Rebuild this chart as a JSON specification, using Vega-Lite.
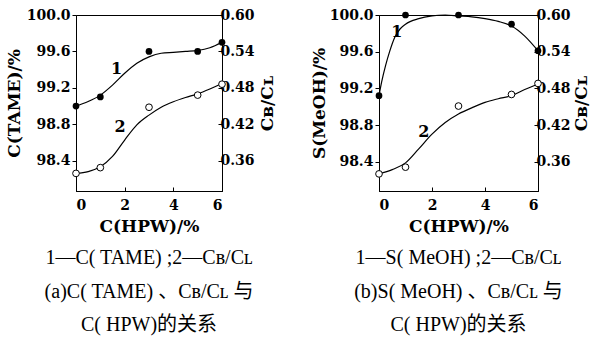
{
  "$schema": "https://vega.github.io/schema/vega-lite/v6.json",
  "padding": {"left": 4, "top": 7, "right": 0, "bottom": 0},
  "background": "white",
  "datasets": {
    "fit": [
      {"p": "a", "s": 1, "x": 0, "v": 99.0}, {"p": "a", "s": 1, "x": 0.5, "v": 99.05}, {"p": "a", "s": 1, "x": 1, "v": 99.12}, {"p": "a", "s": 1, "x": 1.5, "v": 99.23}, {"p": "a", "s": 1, "x": 2, "v": 99.36}, {"p": "a", "s": 1, "x": 2.5, "v": 99.47}, {"p": "a", "s": 1, "x": 3, "v": 99.54}, {"p": "a", "s": 1, "x": 3.5, "v": 99.58}, {"p": "a", "s": 1, "x": 4, "v": 99.59}, {"p": "a", "s": 1, "x": 4.5, "v": 99.6}, {"p": "a", "s": 1, "x": 5, "v": 99.61}, {"p": "a", "s": 1, "x": 5.5, "v": 99.64}, {"p": "a", "s": 1, "x": 6, "v": 99.7},
      {"p": "a", "s": 2, "x": 0, "v": 0.339}, {"p": "a", "s": 2, "x": 0.5, "v": 0.342}, {"p": "a", "s": 2, "x": 1, "v": 0.35}, {"p": "a", "s": 2, "x": 1.5, "v": 0.367}, {"p": "a", "s": 2, "x": 2, "v": 0.394}, {"p": "a", "s": 2, "x": 2.5, "v": 0.419}, {"p": "a", "s": 2, "x": 3, "v": 0.435}, {"p": "a", "s": 2, "x": 3.5, "v": 0.448}, {"p": "a", "s": 2, "x": 4, "v": 0.457}, {"p": "a", "s": 2, "x": 4.5, "v": 0.464}, {"p": "a", "s": 2, "x": 5, "v": 0.47}, {"p": "a", "s": 2, "x": 5.5, "v": 0.478}, {"p": "a", "s": 2, "x": 6, "v": 0.487},
      {"p": "b", "s": 1, "x": 0, "v": 99.12}, {"p": "b", "s": 1, "x": 0.1, "v": 99.27}, {"p": "b", "s": 1, "x": 0.25, "v": 99.45}, {"p": "b", "s": 1, "x": 0.4, "v": 99.6}, {"p": "b", "s": 1, "x": 0.6, "v": 99.76}, {"p": "b", "s": 1, "x": 0.8, "v": 99.85}, {"p": "b", "s": 1, "x": 1, "v": 99.9}, {"p": "b", "s": 1, "x": 1.5, "v": 99.96}, {"p": "b", "s": 1, "x": 2, "v": 99.99}, {"p": "b", "s": 1, "x": 2.5, "v": 100.0}, {"p": "b", "s": 1, "x": 3, "v": 99.99}, {"p": "b", "s": 1, "x": 3.5, "v": 99.98}, {"p": "b", "s": 1, "x": 4, "v": 99.96}, {"p": "b", "s": 1, "x": 4.5, "v": 99.93}, {"p": "b", "s": 1, "x": 5, "v": 99.88}, {"p": "b", "s": 1, "x": 5.5, "v": 99.77}, {"p": "b", "s": 1, "x": 6, "v": 99.61},
      {"p": "b", "s": 2, "x": 0, "v": 0.34}, {"p": "b", "s": 2, "x": 0.5, "v": 0.347}, {"p": "b", "s": 2, "x": 1, "v": 0.358}, {"p": "b", "s": 2, "x": 1.5, "v": 0.381}, {"p": "b", "s": 2, "x": 2, "v": 0.405}, {"p": "b", "s": 2, "x": 2.5, "v": 0.424}, {"p": "b", "s": 2, "x": 3, "v": 0.438}, {"p": "b", "s": 2, "x": 3.5, "v": 0.448}, {"p": "b", "s": 2, "x": 4, "v": 0.457}, {"p": "b", "s": 2, "x": 4.5, "v": 0.463}, {"p": "b", "s": 2, "x": 5, "v": 0.468}, {"p": "b", "s": 2, "x": 5.5, "v": 0.478}, {"p": "b", "s": 2, "x": 6, "v": 0.487}
    ],
    "obs": [
      {"p": "a", "s": 1, "x": 0, "v": 99.0}, {"p": "a", "s": 1, "x": 1, "v": 99.1}, {"p": "a", "s": 1, "x": 3, "v": 99.6}, {"p": "a", "s": 1, "x": 5, "v": 99.6}, {"p": "a", "s": 1, "x": 6, "v": 99.7},
      {"p": "a", "s": 2, "x": 0, "v": 0.339}, {"p": "a", "s": 2, "x": 1, "v": 0.3485}, {"p": "a", "s": 2, "x": 3, "v": 0.448}, {"p": "a", "s": 2, "x": 5, "v": 0.468}, {"p": "a", "s": 2, "x": 6, "v": 0.486},
      {"p": "b", "s": 1, "x": 0, "v": 99.12}, {"p": "b", "s": 1, "x": 1, "v": 100.0}, {"p": "b", "s": 1, "x": 3, "v": 100.0}, {"p": "b", "s": 1, "x": 5, "v": 99.9}, {"p": "b", "s": 1, "x": 6, "v": 99.61},
      {"p": "b", "s": 2, "x": 0, "v": 0.34}, {"p": "b", "s": 2, "x": 1, "v": 0.351}, {"p": "b", "s": 2, "x": 3, "v": 0.451}, {"p": "b", "s": 2, "x": 5, "v": 0.47}, {"p": "b", "s": 2, "x": 6, "v": 0.488}
    ],
    "lab": [
      {"p": "a", "s": 1, "x": 1.67, "v": 99.41, "t": "1"},
      {"p": "a", "s": 2, "x": 1.81, "v": 0.416, "t": "2"},
      {"p": "b", "s": 1, "x": 0.67, "v": 99.81, "t": "1"},
      {"p": "b", "s": 2, "x": 1.69, "v": 0.408, "t": "2"}
    ]
  },
  "config": {
    "font": "DejaVu Serif",
    "view": {"stroke": "black", "strokeWidth": 1},
    "axis": {"grid": false, "domainColor": "black", "tickColor": "black", "labelColor": "black", "titleColor": "black", "labelFont": "DejaVu Serif", "titleFont": "DejaVu Serif", "labelFontSize": 14, "titleFontSize": 17, "labelFontWeight": "bold", "titleFontWeight": "bold", "tickSize": 4},
    "concat": {"spacing": 33},
    "text": {"font": "DejaVu Serif"},
    "title": {"font": "'Liberation Serif', 'Noto Sans CJK SC', serif", "fontSize": 20, "fontWeight": "normal", "color": "black"}
  },
  "hconcat": [
    {
      "width": 146, "height": 176,
      "title": {"text": ["1—C( TAME) ;2—Cʙ/Cʟ", "(a)C( TAME) 、Cʙ/Cʟ 与", "C( HPW)的关系"], "orient": "bottom", "frame": "group", "anchor": "middle", "lineHeight": 33.5, "offset": 14},
      "layer": [
        {
          "encoding": {
            "x": {"field": "x", "type": "quantitative", "scale": {"domain": [0, 6], "nice": false}, "axis": {"values": [0, 2, 4, 6], "title": "C(HPW)/%", "tickSize": -4, "labelPadding": 11, "titlePadding": 6}},
            "y": {"field": "v", "type": "quantitative", "scale": {"domain": [98.067, 100], "nice": false, "zero": false}, "axis": {"orient": "left", "values": [98.4, 98.8, 99.2, 99.6, 100], "format": ".1f", "title": "C(TAME)/%", "titlePadding": 3, "labelPadding": 2}}
          },
          "layer": [
            {"data": {"name": "fit"}, "transform": [{"filter": "datum.p == 'a' && datum.s == 1"}], "mark": {"type": "line", "interpolate": "monotone", "color": "black", "strokeWidth": 1.2}, "encoding": {}},
            {"data": {"name": "obs"}, "transform": [{"filter": "datum.p == 'a' && datum.s == 1"}], "mark": {"type": "point", "shape": "circle", "filled": true, "color": "black", "size": 45, "opacity": 1}, "encoding": {}},
            {"data": {"name": "lab"}, "transform": [{"filter": "datum.p == 'a' && datum.s == 1"}], "mark": {"type": "text", "font": "DejaVu Serif", "fontSize": 16, "fontWeight": "bold", "color": "black"}, "encoding": {"text": {"field": "t"}}}
          ]
        },
        {
          "encoding": {
            "x": {"field": "x", "type": "quantitative", "scale": {"domain": [0, 6], "nice": false}, "axis": {"values": [0, 2, 4, 6], "title": "C(HPW)/%", "tickSize": -4, "labelPadding": 11, "titlePadding": 6}},
            "y": {"field": "v", "type": "quantitative", "scale": {"domain": [0.31, 0.6], "nice": false, "zero": false}, "axis": {"orient": "right", "values": [0.36, 0.42, 0.48, 0.54, 0.6], "format": ".2f", "title": "Cʙ/Cʟ", "titleAngle": 270, "titleBaseline": "top", "tickSize": -4, "titlePadding": 5, "labelPadding": 2}}
          },
          "layer": [
            {"data": {"name": "fit"}, "transform": [{"filter": "datum.p == 'a' && datum.s == 2"}], "mark": {"type": "line", "interpolate": "monotone", "color": "black", "strokeWidth": 1.2}, "encoding": {}},
            {"data": {"name": "obs"}, "transform": [{"filter": "datum.p == 'a' && datum.s == 2"}], "mark": {"type": "point", "shape": "circle", "filled": true, "fill": "white", "stroke": "black", "strokeWidth": 1, "size": 45, "opacity": 1}, "encoding": {}},
            {"data": {"name": "lab"}, "transform": [{"filter": "datum.p == 'a' && datum.s == 2"}], "mark": {"type": "text", "font": "DejaVu Serif", "fontSize": 16, "fontWeight": "bold", "color": "black"}, "encoding": {"text": {"field": "t"}}}
          ]
        }
      ],
      "resolve": {"scale": {"y": "independent"}}
    },
    {
      "width": 159, "height": 176,
      "title": {"text": ["1—S( MeOH) ;2—Cʙ/Cʟ", "(b)S( MeOH) 、Cʙ/Cʟ 与", "C( HPW)的关系"], "orient": "bottom", "frame": "group", "anchor": "middle", "lineHeight": 33.5, "offset": 14},
      "layer": [
        {
          "encoding": {
            "x": {"field": "x", "type": "quantitative", "scale": {"domain": [0, 6], "nice": false}, "axis": {"values": [0, 2, 4, 6], "title": "C(HPW)/%", "tickSize": -4, "labelPadding": 11, "titlePadding": 6}},
            "y": {"field": "v", "type": "quantitative", "scale": {"domain": [98.08, 100], "nice": false, "zero": false}, "axis": {"orient": "left", "values": [98.4, 98.8, 99.2, 99.6, 100], "format": ".1f", "title": "S(MeOH)/%", "titlePadding": 1, "labelPadding": 2}}
          },
          "layer": [
            {"data": {"name": "fit"}, "transform": [{"filter": "datum.p == 'b' && datum.s == 1"}], "mark": {"type": "line", "interpolate": "monotone", "color": "black", "strokeWidth": 1.2}, "encoding": {}},
            {"data": {"name": "obs"}, "transform": [{"filter": "datum.p == 'b' && datum.s == 1"}], "mark": {"type": "point", "shape": "circle", "filled": true, "color": "black", "size": 45, "opacity": 1}, "encoding": {}},
            {"data": {"name": "lab"}, "transform": [{"filter": "datum.p == 'b' && datum.s == 1"}], "mark": {"type": "text", "font": "DejaVu Serif", "fontSize": 16, "fontWeight": "bold", "color": "black"}, "encoding": {"text": {"field": "t"}}}
          ]
        },
        {
          "encoding": {
            "x": {"field": "x", "type": "quantitative", "scale": {"domain": [0, 6], "nice": false}, "axis": {"values": [0, 2, 4, 6], "title": "C(HPW)/%", "tickSize": -4, "labelPadding": 11, "titlePadding": 6}},
            "y": {"field": "v", "type": "quantitative", "scale": {"domain": [0.312, 0.6], "nice": false, "zero": false}, "axis": {"orient": "right", "values": [0.36, 0.42, 0.48, 0.54, 0.6], "format": ".2f", "title": "Cʙ/Cʟ", "titleAngle": 270, "titleBaseline": "top", "tickSize": -4, "titlePadding": 3, "labelPadding": 2}}
          },
          "layer": [
            {"data": {"name": "fit"}, "transform": [{"filter": "datum.p == 'b' && datum.s == 2"}], "mark": {"type": "line", "interpolate": "monotone", "color": "black", "strokeWidth": 1.2}, "encoding": {}},
            {"data": {"name": "obs"}, "transform": [{"filter": "datum.p == 'b' && datum.s == 2"}], "mark": {"type": "point", "shape": "circle", "filled": true, "fill": "white", "stroke": "black", "strokeWidth": 1, "size": 45, "opacity": 1}, "encoding": {}},
            {"data": {"name": "lab"}, "transform": [{"filter": "datum.p == 'b' && datum.s == 2"}], "mark": {"type": "text", "font": "DejaVu Serif", "fontSize": 16, "fontWeight": "bold", "color": "black"}, "encoding": {"text": {"field": "t"}}}
          ]
        }
      ],
      "resolve": {"scale": {"y": "independent"}}
    }
  ]
}
